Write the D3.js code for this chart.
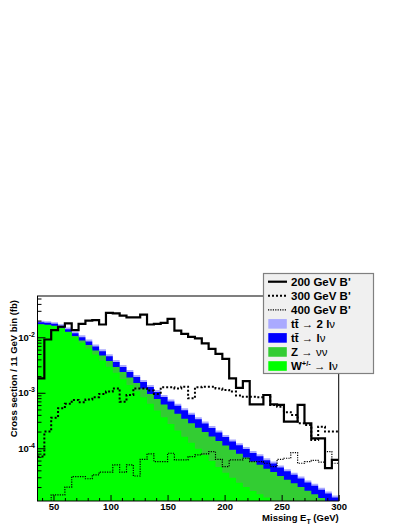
<!DOCTYPE html>
<html><head><meta charset="utf-8">
<script src="https://cdn.jsdelivr.net/npm/d3@7"></script>
<style>html,body{margin:0;padding:0;background:#fff;} svg{display:block;} text{font-family:"Liberation Sans",Arial,Helvetica,sans-serif;font-weight:bold;}</style>
</head><body><svg id="c" width="407" height="527"></svg>
<script>
// ---- data ----
const binLow = [36,42,48,54,60,66,72,78,84,90,96,102,108,114,120,126,132,138,144,150,156,162,168,174,180,186,192,198,204,210,216,222,228,234,240,246,252,258,264,270,276,282,288,294];
const binWidth = 6;
const wjets = [1.70e-2,1.66e-2,1.585e-2,1.445e-2,1.23e-2,1.00e-2,7.94e-3,6.31e-3,4.90e-3,3.80e-3,2.95e-3,2.29e-3,1.78e-3,1.38e-3,1.07e-3,8.32e-4,6.31e-4,4.79e-4,3.63e-4,2.75e-4,2.09e-4,1.62e-4,1.26e-4,9.77e-5,7.59e-5,5.89e-5,4.57e-5,3.63e-5,2.95e-5,2.40e-5,2.00e-5,1.70e-5,1.48e-5,1.29e-5,1.12e-5,9.55e-6,7.94e-6,6.61e-6,5.50e-6,4.57e-6,3.80e-6,3.16e-6,2.63e-6,2.19e-6];
const zvv = [2.2e-4,2.4e-4,2.6e-4,2.8e-4,3.5e-4,5.5e-4,8.5e-4,9.5e-4,9.0e-4,8.8e-4,7.9e-4,6.19e-4,5.88e-4,5.03e-4,4.28e-4,3.62e-4,3.19e-4,2.94e-4,2.52e-4,2.26e-4,2.08e-4,1.78e-4,1.57e-4,1.37e-4,1.20e-4,1.04e-4,8.96e-5,7.63e-5,6.41e-5,5.57e-5,4.79e-5,4.07e-5,3.55e-5,2.99e-5,2.61e-5,2.22e-5,1.91e-5,1.69e-5,1.45e-5,1.25e-5,1.10e-5,9.47e-6,8.12e-6,6.96e-6];
const ttlv = [1.45e-3,1.45e-3,1.42e-3,1.38e-3,1.33e-3,1.27e-3,1.19e-3,1.12e-3,1.03e-3,9.2e-4,8.0e-4,6.70e-4,5.44e-4,4.82e-4,4.23e-4,3.69e-4,3.20e-4,2.60e-4,2.24e-4,1.97e-4,1.64e-4,1.43e-4,1.19e-4,9.90e-5,8.24e-5,6.85e-5,5.70e-5,4.74e-5,3.94e-5,3.35e-5,2.86e-5,2.43e-5,2.12e-5,1.80e-5,1.57e-5,1.34e-5,1.14e-5,9.90e-6,8.43e-6,7.17e-6,6.25e-6,5.32e-6,4.53e-6,3.85e-6];
const tt2lv = [1.15e-3,1.14e-3,1.12e-3,1.08e-3,1.03e-3,9.6e-4,8.8e-4,7.3e-4,5.9e-4,4.8e-4,3.9e-4,3.1e-4,2.52e-4,2.05e-4,1.66e-4,1.35e-4,1.10e-4,8.93e-5,7.26e-5,6.04e-5,5.02e-5,4.18e-5,3.47e-5,2.89e-5,2.40e-5,2.00e-5,1.66e-5,1.38e-5,1.15e-5,9.79e-6,8.33e-6,7.09e-6,6.18e-6,5.26e-6,4.58e-6,3.90e-6,3.32e-6,2.89e-6,2.46e-6,2.09e-6,1.82e-6,1.55e-6,1.32e-6,1.12e-6];
const bp200 = [1.82e-3,9.12e-3,1.35e-2,1.55e-2,1.78e-2,1.35e-2,1.74e-2,2.00e-2,2.04e-2,1.70e-2,2.75e-2,2.69e-2,2.45e-2,2.29e-2,2.29e-2,2.57e-2,1.70e-2,1.74e-2,1.82e-2,2.14e-2,1.32e-2,1.15e-2,1.02e-2,9.55e-3,7.76e-3,6.17e-3,5.01e-3,4.07e-3,1.82e-3,1.23e-3,1.62e-3,6.17e-4,6.17e-4,9.12e-4,6.17e-4,6.03e-4,3.02e-4,3.02e-4,6.03e-4,2.82e-4,1.51e-4,1.51e-4,4.37e-5,6.17e-5];
const bp300 = [7.08e-5,2.00e-4,3.55e-4,5.25e-4,6.31e-4,7.41e-4,6.76e-4,7.59e-4,8.32e-4,9.55e-4,1.05e-3,1.20e-3,6.92e-4,9.12e-4,1.20e-3,1.20e-3,1.10e-3,9.55e-4,1.26e-3,1.26e-3,1.20e-3,1.29e-3,7.94e-4,1.26e-3,1.29e-3,1.29e-3,1.20e-3,1.12e-3,1.05e-3,8.91e-4,8.51e-4,8.51e-4,8.32e-4,9.12e-4,6.03e-4,5.62e-4,4.47e-4,3.98e-4,2.82e-4,2.63e-4,1.41e-4,2.45e-4,2.00e-4,2.00e-4];
const bp400 = [1.0e-5,1.0e-5,1.45e-5,1.45e-5,2.00e-5,3.09e-5,3.09e-5,2.82e-5,3.31e-5,3.72e-5,3.72e-5,5.01e-5,3.72e-5,5.01e-5,3.16e-5,6.31e-5,7.94e-5,5.75e-5,5.75e-5,8.13e-5,6.17e-5,6.17e-5,7.08e-5,7.59e-5,7.94e-5,8.71e-5,6.31e-5,4.68e-5,6.17e-5,6.17e-5,6.61e-5,5.75e-5,5.75e-5,5.37e-5,4.68e-5,6.31e-5,6.61e-5,8.32e-5,5.37e-5,5.75e-5,6.03e-5,5.62e-5,8.71e-5,5.37e-5];
const xTicks = [50,100,150,200,250,300];
const yTickExps = [-4,-3,-2];
const yDomain = [1.12e-5, 0.0555];

// ---- layout ----
const plot = {l:37.5, r:338.7, t:296, b:501};
const svg = d3.select('#c');
svg.append('rect').attr('width',407).attr('height',527).attr('fill','#fff');

const xMax = binLow[binLow.length-1] + binWidth;
const x = d3.scaleLinear().domain([binLow[0], xMax]).range([plot.l, plot.r]);
const y = d3.scaleLog().domain(yDomain).range([plot.b, plot.t]);

svg.append('clipPath').attr('id','clip').append('rect')
  .attr('x',plot.l).attr('y',plot.t).attr('width',plot.r-plot.l).attr('height',plot.b-plot.t);
const g = svg.append('g').attr('clip-path','url(#clip)');

// stacked backgrounds
const keys = ['wjets','zvv','ttlv','tt2lv'];
const colors = {wjets:'#00ff00', zvv:'#33cc33', ttlv:'#0000ff', tt2lv:'#aaaaff'};
const series = {wjets, zvv, ttlv, tt2lv};
const rows = binLow.map((b,i)=>{const r={x:b}; keys.forEach(k=>r[k]=series[k][i]); return r;});
rows.push(Object.assign({}, rows[rows.length-1], {x:xMax}));
const stacked = d3.stack().keys(keys)(rows);
const area = d3.area().curve(d3.curveStepAfter)
  .x(d=>x(d.data.x)).y0(plot.b+5).y1(d=>y(Math.max(d[1],1e-8)));
for (let k=stacked.length-1;k>=0;k--){
  g.append('path').attr('d',area(stacked[k])).attr('fill',colors[keys[k]]).attr('stroke','none');
}

// signal lines
const sigs = [
  {v:bp200, w:2.2, dash:null},
  {v:bp300, w:2, dash:'2,2'},
  {v:bp400, w:1.2, dash:'1.2,1.2'}
];
const line = d3.line().curve(d3.curveStepAfter).x(d=>x(d.x)).y(d=>y(d.v));
sigs.forEach(s=>{
  const pts = binLow.map((b,i)=>({x:b,v:s.v[i]}));
  pts.push({x:xMax, v:s.v[s.v.length-1]});
  const p = g.append('path').attr('d',line(pts)).attr('fill','none').attr('stroke','#000')
    .attr('stroke-width',s.w);
  if (s.dash) p.attr('stroke-dasharray',s.dash);
});

// frame
svg.append('rect').attr('x',plot.l).attr('y',plot.t).attr('width',plot.r-plot.l).attr('height',plot.b-plot.t)
  .attr('fill','none').attr('stroke','#000').attr('stroke-width',1);

// x axis
const xMinor = d3.range(40, xMax+1, 10).filter(v=>!xTicks.includes(v));
const ax = svg.append('g').attr('transform',`translate(0,${plot.b})`)
  .call(d3.axisBottom(x).tickValues(xTicks).tickSizeInner(-6).tickSizeOuter(0).tickPadding(2).tickFormat(d3.format('d')));
ax.select('.domain').remove();
ax.selectAll('text').attr('font-size',9.5).attr('font-weight','bold').attr('fill','#000');
const axm = svg.append('g').attr('transform',`translate(0,${plot.b})`)
  .call(d3.axisBottom(x).tickValues(xMinor).tickSizeInner(-3).tickSizeOuter(0).tickFormat(''));
axm.select('.domain').remove();

// y axis
const yMajors = yTickExps.map(e=>Math.pow(10,e));
const yMinors = [];
for (let e=-5;e<=-2;e++) for (let m=2;m<=9;m++){const v=m*Math.pow(10,e); if(v>=yDomain[0]&&v<=yDomain[1]) yMinors.push(v);}
const ay = svg.append('g').attr('transform',`translate(${plot.l},0)`)
  .call(d3.axisLeft(y).tickValues(yMajors).tickSizeInner(-8).tickSizeOuter(0).tickFormat(''));
ay.select('.domain').remove();
const aym = svg.append('g').attr('transform',`translate(${plot.l},0)`)
  .call(d3.axisLeft(y).tickValues(yMinors).tickSizeInner(-4).tickSizeOuter(0).tickFormat(''));
aym.select('.domain').remove();
yTickExps.forEach(e=>{
  const t = svg.append('text').attr('x',35).attr('y',y(Math.pow(10,e))+3.3).attr('text-anchor','end')
    .attr('font-size',9.5);
  t.append('tspan').text('10');
  t.append('tspan').attr('font-size',7).attr('dy',-4).text(String(e));
});

// axis titles
svg.append('text').attr('transform',`translate(17,${plot.t+4}) rotate(-90)`).attr('text-anchor','end')
  .attr('font-size',9.5).text('Cross section / 11 GeV bin (fb)');
const xt = svg.append('text').attr('x',plot.r).attr('y',521).attr('text-anchor','end').attr('font-size',9.5);
xt.append('tspan').text('Missing E');
xt.append('tspan').attr('font-size',7).attr('dy',2.5).text('T');
xt.append('tspan').attr('dy',-2.5).text(' (GeV)');

// legend
const lg = svg.append('g');
lg.append('rect').attr('x',263.5).attr('y',273.5).attr('width',110).attr('height',100)
  .attr('fill','#f0f0f0').attr('stroke','#808080').attr('stroke-width',1.2);
const legendItems = [
  {type:'line', s:sigs[0], parts:[['200 GeV B\'','bold']]},
  {type:'line', s:sigs[1], parts:[['300 GeV B\'','bold']]},
  {type:'line', s:sigs[2], parts:[['400 GeV B\'','bold']]},
  {type:'box', c:colors.tt2lv, parts:[['tt\u0304 ','bold'],['\u2192 ','normal'],['2 l','bold'],['\u03bd','normal']]},
  {type:'box', c:colors.ttlv, parts:[['tt\u0304 ','bold'],['\u2192 ','normal'],['l','bold'],['\u03bd','normal']]},
  {type:'box', c:colors.zvv, parts:[['Z ','bold'],['\u2192 ','normal'],['\u03bd\u03bd','normal']]},
  {type:'box', c:colors.wjets, parts:[['W','bold'],['+/-','sup'],[' \u2192 ','normal'],['l','bold'],['\u03bd','normal']]}
];
legendItems.forEach((it,i)=>{
  const cy = 281.7 + 14.05*i;
  if (it.type==='line'){
    const l = lg.append('line').attr('x1',268).attr('x2',287).attr('y1',cy).attr('y2',cy)
      .attr('stroke','#000').attr('stroke-width',it.s.w);
    if (it.s.dash) l.attr('stroke-dasharray',it.s.dash);
  } else {
    lg.append('rect').attr('x',268.3).attr('y',cy-4.8).attr('width',18.5).attr('height',9.6).attr('fill',it.c);
  }
  const t = lg.append('text').attr('x',291).attr('y',cy+4).attr('font-size',11.5);
  let raised=false;
  it.parts.forEach(p=>{
    const ts = t.append('tspan').text(p[0]);
    if (p[1]==='sup'){ ts.attr('font-size',7.5).attr('dy',-4.5).attr('font-weight','bold'); raised=true; }
    else {
      if (raised){ ts.attr('dy',4.5); raised=false; }
      ts.attr('font-weight',p[1]);
    }
  });
});
</script>
</body></html>
